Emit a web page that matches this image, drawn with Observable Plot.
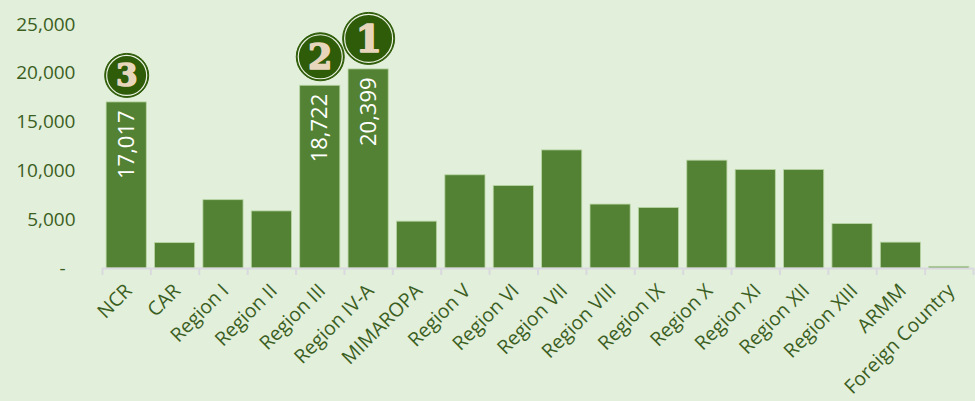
<!DOCTYPE html>
<html>
<head>
<meta charset="utf-8">
<script src="https://cdn.jsdelivr.net/npm/d3@7"></script>
<script src="https://cdn.jsdelivr.net/npm/@observablehq/plot@0.6"></script>
<style>
  html, body { margin: 0; padding: 0; background: #E2EFDA; }
  #chart svg { display: block; background: #E2EFDA; }
</style>
</head>
<body>
<div id="chart"></div>
<script>
const regions = ["NCR", "CAR", "Region I", "Region II", "Region III", "Region IV-A", "MIMAROPA",
  "Region V", "Region VI", "Region VII", "Region VIII", "Region IX", "Region X", "Region XI",
  "Region XII", "Region XIII", "ARMM", "Foreign Country"];
const counts = [17017, 2600, 7000, 5850, 18722, 20399, 4800, 9550, 8450, 12100, 6550, 6200,
  11050, 10100, 10100, 4550, 2650, 170];
const labeledRegions = ["NCR", "Region III", "Region IV-A"];
const ranks = [3, 2, 1];
const yTicks = [0, 5000, 10000, 15000, 20000, 25000];

const data = regions.map((r, i) => ({region: r, count: counts[i]}));
const topData = labeledRegions.map((r, i) => ({region: r, count: counts[regions.indexOf(r)], rank: ranks[i]}));

const W = 975, H = 401, mL = 102, mR = 2;
const step = (W - mL - mR) / regions.length;
const textColor = "#3B5E22";
const badgeR = {1: 26, 2: 24, 3: 22};
const badgeFont = {1: 38, 2: 35, 3: 31};

const badgeMarks = topData.flatMap(d => {
  const r = badgeR[d.rank];
  const off = -(5 + r);
  return [
    Plot.dot([d], {x: "region", y: "count", r, dy: off, fill: "#2F5C08", stroke: "#2F5C08", strokeWidth: 1}),
    Plot.dot([d], {x: "region", y: "count", r: r - 2, dy: off, fill: "none", stroke: "#EAF2E2", strokeWidth: 1.2}),
    Plot.text([d], {x: "region", y: "count", text: d => String(d.rank), dy: off + 1,
      fill: "#E8D6BC", stroke: "#E8D6BC", strokeWidth: 1.6, fontSize: badgeFont[d.rank], fontWeight: "bold", fontFamily: "DejaVu Serif"})
  ];
});

const chart = Plot.plot({
  width: W,
  height: H,
  marginLeft: mL,
  marginRight: mR,
  marginTop: 24,
  marginBottom: 133,
  style: {background: "#E2EFDA", fontFamily: "Open Sans", overflow: "visible"},
  x: {type: "band", domain: regions, paddingInner: 0.17, paddingOuter: 0.085, round: false, label: null},
  y: {domain: [0, 25000], label: null},
  marks: [
    Plot.barY(data, {x: "region", y: "count", fill: "#548235", stroke: "#B9D6A4", strokeWidth: 0.8}),
    Plot.ruleY([0], {stroke: "#D9D9DF", strokeWidth: 2}),
    Plot.axisX({ticks: regions, tickSize: 7, tickFormat: () => "", dx: -step / 2, stroke: "#D9D9DF", strokeWidth: 2, label: null}),
    Plot.axisX({ticks: [regions[regions.length - 1]], tickSize: 7, tickFormat: () => "", dx: step / 2, stroke: "#D9D9DF", strokeWidth: 2, label: null}),
    Plot.axisX({tickSize: 0, tickRotate: -45, tickPadding: 16, dx: 2, dy: 3, fontSize: 19.5, fill: textColor, label: null}),
    Plot.axisY({ticks: yTicks, tickSize: 0, tickPadding: 27, fontSize: 19, fill: textColor, label: null,
      tickFormat: d => d === 0 ? "-\u00a0\u00a0" : d3.format(",")(d)}),
    Plot.text(topData, {x: "region", y: "count", text: d => d3.format(",")(d.count), rotate: -90,
      textAnchor: "end", dy: 8, fill: "white", fontSize: 22}),
    ...badgeMarks
  ]
});
document.getElementById("chart").appendChild(chart);
</script>
</body>
</html>
